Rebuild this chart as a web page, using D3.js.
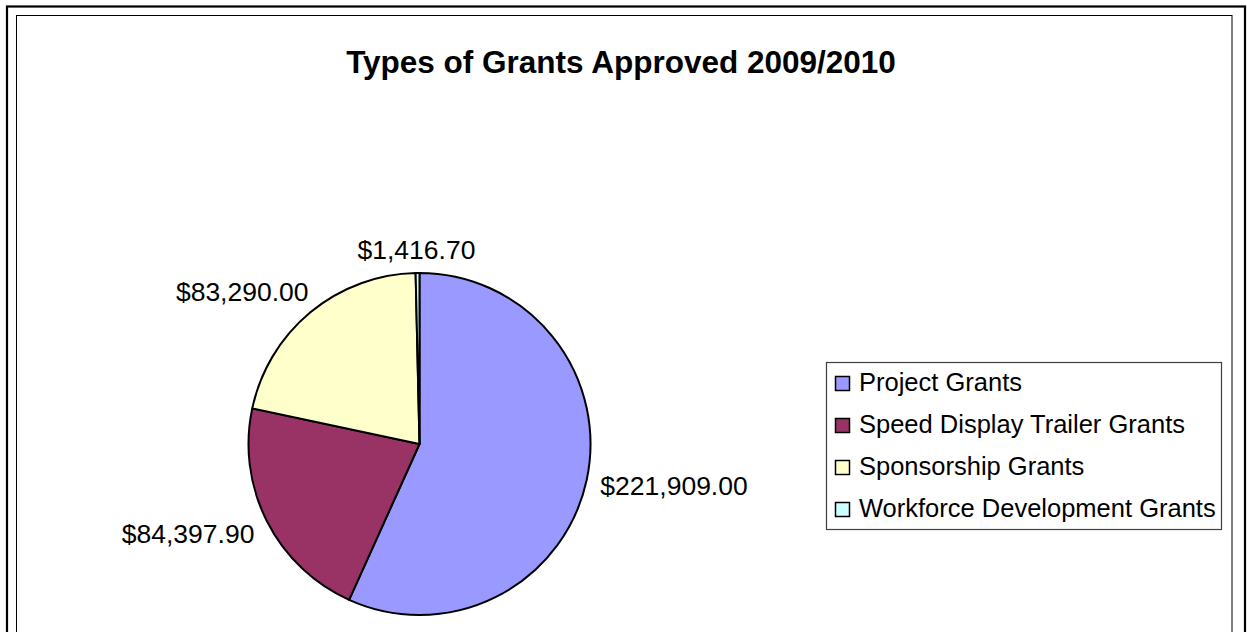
<!DOCTYPE html>
<html>
<head>
<meta charset="utf-8">
<script src="https://cdn.jsdelivr.net/npm/d3@7"></script>
<style>
  body { margin: 0; background: #fff; }
  text { font-family: Arial, "Liberation Sans", sans-serif; fill: #000; }
</style>
</head>
<body>
<script>
var svgWidth = 1247;
var svgHeight = 632;

// data
var categories = ["Project Grants", "Speed Display Trailer Grants", "Sponsorship Grants", "Workforce Development Grants"];
var amounts = [221909.00, 84397.90, 83290.00, 1416.70];
var colors = ["#9999FF", "#993366", "#FFFFCC", "#CCFFFF"];
var title = "Types of Grants Approved 2009/2010";

var data = categories.map(function(c, i) {
  return { name: c, value: amounts[i], color: colors[i] };
});

var svg = d3.select("body")
  .append("svg")
  .attr("width", svgWidth)
  .attr("height", svgHeight);

// outer frame + chart area frame (cut off at the bottom like the picture)
svg.append("rect")
  .attr("x", 7).attr("y", 6.5)
  .attr("width", 1238).attr("height", 700)
  .attr("fill", "none").attr("stroke", "#000").attr("stroke-width", 2.2);

svg.append("rect")
  .attr("x", 16.5).attr("y", 15.5)
  .attr("width", 1215.5).attr("height", 700)
  .attr("fill", "none").attr("stroke", "#000").attr("stroke-width", 1);

svg.append("text")
  .attr("x", 621)
  .attr("y", 73)
  .attr("text-anchor", "middle")
  .style("font-size", "31.5px")
  .style("font-weight", "bold")
  .text(title);

// pie
var cx = 419.5, cy = 444, radius = 171;
var pie = d3.pie().sort(null).value(d => d.value);
var arc = d3.arc().innerRadius(0).outerRadius(radius);
var arcs = pie(data);

var pieGroup = svg.append("g")
  .attr("transform", `translate(${cx}, ${cy})`);

pieGroup.selectAll("path")
  .data(arcs)
  .enter()
  .append("path")
  .attr("d", arc)
  .attr("fill", d => d.data.color)
  .attr("stroke", "#000")
  .attr("stroke-width", 2)
  .attr("stroke-linejoin", "round");

// data labels, placed outside each slice
var fmt = d3.format("$,.2f");
var labelSize = 26.5;
var labelGroup = pieGroup.append("g");
var clamp = v => Math.max(-1, Math.min(1, v));

arcs.forEach(function(d) {
  var a = (d.startAngle + d.endAngle) / 2;
  var sx = Math.sin(a), sy = -Math.cos(a);
  var px = sx * (radius + 14), py = sy * (radius + 14);
  var t = labelGroup.append("text")
    .style("font-size", labelSize + "px")
    .text(fmt(d.data.value));
  var w = t.node().getBBox().width, h = labelSize * 0.75;
  t.attr("x", px + clamp(sx * 1.4) * w / 2)
    .attr("y", py + clamp(sy * 1.4) * h / 2)
    .attr("text-anchor", "middle")
    .attr("dy", "0.36em");
});

// legend
var legend = svg.append("g")
  .attr("transform", "translate(826, 362)");

legend.append("rect")
  .attr("x", 0.5).attr("y", 0.5)
  .attr("width", 395).attr("height", 167)
  .attr("fill", "#fff")
  .attr("stroke", "#404040")
  .attr("stroke-width", 1.2);

var rowH = 42;
var items = legend.selectAll("g.item")
  .data(data)
  .enter()
  .append("g")
  .attr("class", "item")
  .attr("transform", (d, i) => `translate(0, ${29 + i * rowH})`);

items.append("rect")
  .attr("x", 9.5).attr("y", -14.5)
  .attr("width", 14).attr("height", 14)
  .attr("fill", d => d.color)
  .attr("stroke", "#000")
  .attr("stroke-width", 1.5);

items.append("text")
  .attr("x", 33)
  .attr("y", 0)
  .style("font-size", "25.5px")
  .text(d => d.name);
</script>
</body>
</html>
